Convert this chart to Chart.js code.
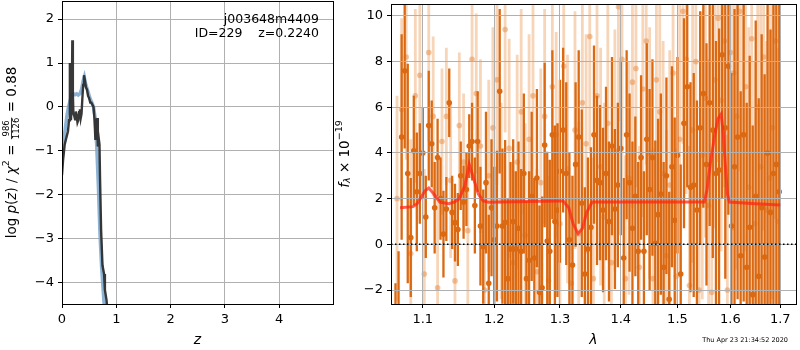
<!DOCTYPE html>
<html>
<head>
<meta charset="utf-8">
<title>Redshift fit</title>
<script src="https://cdn.jsdelivr.net/npm/chart.js"></script>
<style>
  body { margin: 0; background: #fff; }
  #wrap { position: relative; width: 800px; height: 350px; }
  canvas { position: absolute; top: 0; }
  #pz { left: 0; }
  #spec { left: 334px; }
</style>
</head>
<body>
<div id="wrap">
  <canvas id="pz" width="334" height="350"></canvas>
  <canvas id="spec" width="466" height="350"></canvas>
</div>
<script>
// ---- left panel: log p(z) ----
const zTicks = [0, 1, 2, 3, 4];
const logpTicks = [-4, -3, -2, -1, 0, 1, 2];

const zFit = [0.0, 0.03, 0.06, 0.09, 0.12, 0.15, 0.18, 0.21, 0.24, 0.27, 0.30, 0.33, 0.36, 0.39, 0.41,
              0.43, 0.46, 0.49, 0.52, 0.55, 0.58, 0.61, 0.64, 0.67, 0.70, 0.73, 0.76, 0.78, 0.80];
const logpFit = [-1.2, -0.8, -0.5, -0.2, 0.0, 0.15, 0.28, 0.3, 0.28, 0.3, 0.27, 0.3, 0.4, 0.6, 0.68,
                 0.55, 0.42, 0.3, 0.18, 0.1, 0.0, -0.25, -0.9, -1.8, -2.9, -3.65, -4.2, -4.55, -4.8];

const zRaw = [0.0, 0.02, 0.05, 0.08, 0.11, 0.13, 0.145, 0.155, 0.165, 0.18, 0.19, 0.20, 0.21, 0.225,
              0.24, 0.255, 0.27, 0.285, 0.30, 0.315, 0.33, 0.345, 0.36, 0.375, 0.39, 0.405, 0.42, 0.44,
              0.46, 0.48, 0.50, 0.52, 0.54, 0.56, 0.58, 0.60, 0.615, 0.63, 0.645, 0.66, 0.675, 0.69,
              0.70, 0.72, 0.745, 0.775, 0.79, 0.82, 0.84];
const logpRaw = [-1.55, -1.2, -0.85, -0.7, -0.55, -0.3, 1.0, 0.1, -0.3, 0.1, 1.52, 0.3, -0.15, -0.2,
                 -0.28, -0.1, -0.2, -0.35, -0.3, -0.12, -0.05, -0.25, -0.15, 0.2, 0.5, 0.72, 0.62, 0.45,
                 0.4, 0.25, 0.2, 0.1, 0.1, 0.05, 0.0, -0.3, -0.75, -0.5, -0.25, -0.9, -0.7, -0.85,
                 -1.6, -2.8, -3.6, -3.8, -4.16, -4.39, -4.7];

const objName = 'j003648m4409';
const idText = 'ID=229    z=0.2240';

// ---- right panel: spectrum ----
const waveTicks = [1.1, 1.2, 1.3, 1.4, 1.5, 1.6, 1.7];
const fluxTicks = [-2, 0, 2, 4, 6, 8, 10];

const darkWave = [
  1.064, 1.068, 1.072, 1.076, 1.080, 1.084, 1.088, 1.092, 1.096, 1.100,
  1.104, 1.108, 1.112, 1.116, 1.120, 1.124, 1.128, 1.132, 1.136, 1.140,
  1.144, 1.148, 1.152, 1.156, 1.160, 1.164, 1.168, 1.172, 1.176, 1.180,
  1.184, 1.188, 1.192, 1.196, 1.200, 1.204, 1.208, 1.212, 1.216, 1.220,
  1.224, 1.228, 1.232, 1.236, 1.240, 1.244, 1.248, 1.252, 1.256, 1.260,
  1.264, 1.268, 1.272, 1.276, 1.280, 1.284, 1.288, 1.292, 1.296, 1.300,
  1.305, 1.310, 1.315, 1.320, 1.325, 1.330, 1.335, 1.340, 1.345, 1.350,
  1.355, 1.360, 1.365, 1.370, 1.375, 1.380, 1.385, 1.390, 1.395, 1.400,
  1.405, 1.410, 1.415, 1.420, 1.425, 1.430, 1.435, 1.440, 1.445, 1.450,
  1.455, 1.460, 1.465, 1.470, 1.475, 1.480, 1.485, 1.490, 1.495, 1.500,
  1.506, 1.512, 1.518, 1.524, 1.530, 1.536, 1.542, 1.548, 1.554, 1.560,
  1.566, 1.572, 1.578, 1.584, 1.590, 1.596, 1.602, 1.608, 1.614, 1.620,
  1.626, 1.632, 1.638, 1.644, 1.650, 1.656, 1.662, 1.668, 1.674, 1.680,
  1.686, 1.692, 1.698
];
const darkFlux = [
  -3.2, -2.8, 4.7, 7.6, 3.1, 0.3, 4.1, 2.3, 3.1, 4.0,
  1.2, 5.2, 4.4, 1.6, 3.8, 2.0, 0.45, 1.55, 6.2, 1.4,
  0.95, 0.65, 3.0, 1.85, 2.4, 4.3, 4.5, 1.7, 4.5, 0.8,
  -0.1, 2.7, -1.7, 1.6, 0.2, 0.8, 6.7, 0.8, 0.97, -1.5,
  -0.2, 1.0, -0.2, 0.7, -0.3, 3.1, -1.5, -0.7, 2.1, -0.6,
  2.9, -2.1, -1.9, 4.35, 0.15, -0.3, 4.8, 1.0, 1.5, 3.2,
  5.0, 3.1, 0.2, -0.9, 3.5, 4.7, 1.8, -1.3, -0.2, 0.75,
  4.8, 2.8, 2.7, 1.5, 3.1, 1.0, 4.3, 1.55, 2.6, 4.2,
  -0.6, 4.8, 2.7, 0.7, 2.1, -0.3, 3.8, -0.3, 4.6, 2.4,
  3.8, 0.05, 1.3, 2.2, -1.0, 3.0, -2.4, 3.4, 1.05, 3.9,
  -1.3, 5.3, 6.9, 2.5, 2.6, 1.5, 5.1, 6.6, 3.5, 6.2,
  5.0, 3.1, 3.25, 8.3, 5.1, 7.8, 0.8, 3.4, 4.7, -0.5,
  4.8, -1.0, 0.75, -2.2, 2.1, -1.4, 1.6, -0.55, 4.0, 1.4,
  3.1, 3.5, 2.3
];
const darkErr = [
  1.5, 2.5, 4.5, 3.4, 4.8, 2.6, 2.4, 2.6, 2.2, 2.0,
  1.8, 2.4, 1.9, 2.0, 1.7, 1.8, 1.9, 1.4, 1.5, 1.6,
  1.7, 1.6, 1.5, 1.6, 1.6, 1.4, 1.7, 2.1, 2.2, 2.6,
  2.5, 3.1, 3.0, 3.0, 3.2, 3.3, 3.6, 3.4, 3.6, 3.5,
  3.8, 3.6, 3.4, 3.8, 3.6, 3.5, 3.4, 3.9, 3.7, 3.5,
  3.9, 3.8, 4.0, 3.6, 3.9, 4.0, 3.7, 4.2, 3.8, 4.0,
  3.6, 4.0, 3.8, 3.9, 3.6, 3.8, 4.1, 3.8, 4.0, 3.5,
  3.9, 3.7, 3.4, 3.6, 3.8, 3.5, 3.9, 3.5, 3.6, 3.8,
  3.5, 3.7, 3.9, 3.8, 3.5, 3.9, 3.6, 3.5, 4.2, 4.4,
  4.3, 4.5, 4.2, 4.4, 4.6, 4.3, 4.7, 4.4, 4.5, 4.3,
  4.8, 4.6, 4.4, 4.6, 4.9, 4.8, 5.1, 5.0, 5.3, 5.4,
  5.6, 5.8, 6.2, 6.3, 6.6, 6.5, 6.7, 6.9, 7.1, 7.2,
  7.3, 7.2, 7.5, 7.4, 7.7, 7.8, 7.6, 8.0, 8.1, 8.0,
  8.3, 8.2, 8.6
];

const lightWave = [
  1.066, 1.072, 1.078, 1.084, 1.090, 1.096, 1.102, 1.108, 1.114, 1.120,
  1.126, 1.132, 1.138, 1.144, 1.150, 1.156, 1.162, 1.168, 1.174, 1.180,
  1.186, 1.192, 1.198, 1.204, 1.210, 1.216, 1.222, 1.228, 1.234, 1.240,
  1.246, 1.252, 1.258, 1.264, 1.270, 1.276, 1.282, 1.288, 1.294, 1.300,
  1.306, 1.312, 1.318, 1.324, 1.330, 1.336, 1.342, 1.348, 1.354, 1.360,
  1.366, 1.372, 1.378, 1.384, 1.390, 1.396, 1.402, 1.408, 1.414, 1.420,
  1.426, 1.432, 1.438, 1.444, 1.450, 1.456, 1.462, 1.468, 1.474, 1.480,
  1.486, 1.492, 1.498, 1.504, 1.510, 1.516, 1.522, 1.528, 1.534, 1.540,
  1.546, 1.552, 1.558, 1.564, 1.570, 1.576, 1.582, 1.588, 1.594, 1.600,
  1.606, 1.612, 1.618, 1.624, 1.630, 1.636, 1.642, 1.648, 1.654, 1.660,
  1.666, 1.672, 1.678, 1.684, 1.690, 1.696
];
const lightFlux = [
  2.0, 5.9, 8.2, -0.4, 6.5, 7.4, -1.3, 8.4, 5.6, -1.9,
  4.5, 5.6, 2.8, -1.6, 5.2, 3.6, 0.6, 8.1, 6.6, 4.3,
  -2.0, 3.0, 5.1, 7.2, 1.9, 9.4, 4.2, -0.8, 3.6, 5.8,
  0.4, 4.6, 6.5, -1.2, 2.7, 5.6, -1.6, 6.9, 4.8, 0.9,
  7.8, 3.3, -1.7, 5.0, 0.47, 6.2, 4.4, 9.1, -1.5, 6.5,
  3.4, 1.2, 5.3, -0.8, 4.1, 10.4, 8.1, -1.5, 2.9, 7.1,
  7.7, -1.0, 6.8, 8.9, 4.0, -1.5, 7.2, 5.8, 3.1, -0.5,
  2.6, 7.5, -1.4, 4.6, 10.2, 8.1, -1.8, 5.0, 8.0, -2.0,
  3.9, 6.4, 1.7, -2.1, 7.2, 9.9, 6.3, 8.9, -2.0, 8.4,
  7.5, 5.6, 10.2, 4.8, 6.9, 2.5, 9.0, 0.9, 6.0, 3.4,
  8.2, 1.5, 2.9, 5.1, 8.9, 1.0
];
const lightErr = [
  4.5, 4.0, 4.5, 5.0, 3.8, 4.2, 4.6, 3.9, 3.5, 4.0,
  3.2, 3.0, 3.4, 3.6, 3.2, 3.0, 3.4, 3.1, 3.5, 3.8,
  4.0, 4.2, 4.4, 4.6, 4.3, 4.5, 4.8, 4.4, 4.7, 4.5,
  4.9, 4.6, 4.8, 4.5, 5.0, 4.7, 4.6, 4.9, 4.5, 5.1,
  4.8, 5.0, 4.7, 5.2, 4.9, 5.1, 4.8, 5.0, 5.3, 4.9,
  5.2, 5.0, 5.4, 5.1, 5.3, 5.0, 5.2, 5.4, 5.1, 5.5,
  5.2, 5.3, 5.6, 5.4, 5.5, 5.7, 5.4, 5.6, 5.8, 5.5,
  5.9, 5.7, 5.6, 6.0, 5.8, 5.9, 6.1, 5.8, 6.2, 6.0,
  6.3, 6.1, 6.4, 6.2, 6.5, 6.3, 6.6, 6.4, 6.8, 6.5,
  6.9, 6.7, 7.0, 6.8, 7.2, 7.0, 7.3, 7.1, 7.4, 7.2,
  7.6, 7.4, 7.7, 7.5, 7.8, 7.6
];

const modelWave = [1.070, 1.087, 1.093, 1.103, 1.108, 1.115, 1.123, 1.135, 1.143, 1.150, 1.158,
                   1.164, 1.170, 1.177, 1.184, 1.192, 1.250, 1.300, 1.305, 1.314, 1.321, 1.329,
                   1.336, 1.343, 1.352, 1.450, 1.550, 1.555, 1.561, 1.569, 1.576, 1.582, 1.586,
                   1.590, 1.594, 1.598, 1.650, 1.700];
const modelFlux = [1.6, 1.65, 1.8, 2.35, 2.47, 2.2, 1.85, 1.78, 1.85, 2.0, 2.6,
                   3.5, 2.9, 2.2, 1.9, 1.84, 1.88, 1.9, 1.9, 1.6, 0.9, 0.47,
                   0.7, 1.4, 1.85, 1.85, 1.85, 2.4, 3.5, 4.7, 5.5, 5.7, 4.9,
                   3.5, 2.2, 1.85, 1.78, 1.72];

const waveMin = 1.0582, waveMax = 1.733;
const stamp = 'Thu Apr 23 21:34:52 2020';

// ---- helpers ----
const FAM = '"DejaVu Sans"';
Chart.defaults.font.family = 'DejaVu Sans';
Chart.defaults.color = '#000';

const minus = v => String(v).replace('-', '\u2212');

function errSegments(wave, flux, err) {
  const pts = [];
  wave.forEach((w, i) => {
    pts.push({x: w, y: flux[i] - err[i]}, {x: w, y: flux[i] + err[i]}, {x: w, y: null});
  });
  return pts;
}
const pairs = (xs, ys) => xs.map((x, i) => ({x: x, y: ys[i]}));

function drawRich(ctx, parts, cx, cy, angle) {
  ctx.save();
  ctx.translate(cx, cy);
  ctx.rotate(angle);
  ctx.textBaseline = 'middle';
  ctx.fillStyle = '#000';
  let total = 0;
  parts.forEach(p => {
    ctx.font = p.font;
    p.w = p.frac ? Math.max(ctx.measureText(p.num).width, ctx.measureText(p.den).width) + 2
                 : ctx.measureText(p.text).width;
    total += p.w;
  });
  let x = -total / 2;
  parts.forEach(p => {
    ctx.font = p.font;
    if (p.frac) {
      ctx.textAlign = 'center';
      ctx.fillText(p.num, x + p.w / 2, -5);
      ctx.fillText(p.den, x + p.w / 2, 5);
      ctx.fillRect(x + 1, -0.8, p.w - 2, 0.8);
    } else {
      ctx.textAlign = 'left';
      ctx.fillText(p.text, x, p.dy || 0);
    }
    x += p.w;
  });
  ctx.restore();
}

const frame = {
  id: 'frame',
  afterDraw(chart) {
    const {ctx, chartArea: a} = chart;
    ctx.save();
    ctx.strokeStyle = '#000';
    ctx.lineWidth = 1;
    ctx.strokeRect(a.left + 0.5, a.top + 0.5, a.right - a.left, a.bottom - a.top);
    ctx.restore();
  }
};

function noPad(s) {
  s.paddingTop = 0; s.paddingBottom = 0; s.paddingLeft = 0; s.paddingRight = 0;
}
function axisX(extra) {
  return Object.assign({
    grid: {color: '#b0b0b0', tickColor: '#000', tickLength: 4},
    border: {display: false},
    ticks: {font: {size: 13}, padding: 4, maxRotation: 0, autoSkip: false},
    afterFit: s => { s.height = 46; noPad(s); }
  }, extra);
}
function axisY(width, extra) {
  return Object.assign({
    grid: {color: '#b0b0b0', tickColor: '#000', tickLength: 4},
    border: {display: false},
    ticks: {font: {size: 13}, padding: 4, autoSkip: false, callback: v => minus(v)},
    afterFit: s => { s.width = width; noPad(s); }
  }, extra);
}

// ---- left chart ----
const pzText = {
  id: 'pzText',
  afterDraw(chart) {
    const {ctx, chartArea: a} = chart;
    ctx.save();
    ctx.fillStyle = '#000';
    ctx.font = '12.5px ' + FAM;
    ctx.textAlign = 'right';
    ctx.textBaseline = 'middle';
    ctx.fillText(objName, a.right - 14, 20);
    ctx.fillText(idText, a.right - 14, 34);
    ctx.restore();
    const n = '13.5px ' + FAM, it = 'italic 13.5px ' + FAM, sm = '9.5px ' + FAM;
    drawRich(ctx, [
      {text: 'log ', font: n}, {text: 'p', font: it}, {text: '(', font: n},
      {text: 'z', font: it}, {text: ') / ', font: n}, {text: '\u03c7', font: it},
      {text: '2', font: sm, dy: -5}, {text: ' = ', font: n},
      {frac: true, num: '986', den: '1126', font: '8.5px ' + FAM},
      {text: ' = 0.88', font: n}
    ], 12, (a.top + a.bottom) / 2, -Math.PI / 2);
  }
};

new Chart(document.getElementById('pz'), {
  type: 'line',
  data: {
    datasets: [
      {data: pairs(zRaw, logpRaw), borderColor: 'rgba(45,45,45,0.95)', borderWidth: 2.4,
       pointRadius: 0, clip: 0},
      {data: pairs(zFit, logpFit), borderColor: 'rgba(120,165,205,0.85)', borderWidth: 3.5,
       pointRadius: 0, clip: 0}
    ]
  },
  options: {
    responsive: false, animation: false, events: [],
    layout: {padding: {top: 1, right: 1, left: 0, bottom: 0}},
    plugins: {legend: {display: false}, tooltip: {enabled: false}},
    scales: {
      x: axisX({type: 'linear', min: 0, max: 4.99,
        afterBuildTicks: s => { s.ticks = zTicks.map(v => ({value: v})); },
        title: {display: true, text: 'z', font: {size: 14, style: 'italic'}, padding: {top: 0, bottom: 1.5}}}),
      y: axisY(62, {type: 'linear', min: -4.48, max: 2.41,
        afterBuildTicks: s => { s.ticks = logpTicks.map(v => ({value: v})); }})
    }
  },
  plugins: [frame, pzText]
});

// ---- right chart ----
const specText = {
  id: 'specText',
  beforeDatasetDraw(chart, args) {
    if (args.index !== 1) return;
    chart.scales.x.drawGrid(chart.chartArea);
    chart.scales.y.drawGrid(chart.chartArea);
  },
  afterDraw(chart) {
    const {ctx, chartArea: a} = chart;
    const n = '13.5px ' + FAM, it = 'italic 13.5px ' + FAM;
    drawRich(ctx, [
      {text: 'f', font: it}, {text: '\u03bb', font: 'italic 9.5px ' + FAM, dy: 3},
      {text: ' \u00d7 10', font: n}, {text: '\u221219', font: '9.5px ' + FAM, dy: -5.5}
    ], 11, (a.top + a.bottom) / 2, -Math.PI / 2);
    ctx.save();
    ctx.fillStyle = '#000';
    ctx.font = '6.5px ' + FAM;
    ctx.textAlign = 'right';
    ctx.textBaseline = 'middle';
    ctx.fillText(stamp, chart.width - 12, 340);
    ctx.restore();
  }
};

const darkOrange = 'rgb(219,105,18)';

new Chart(document.getElementById('spec'), {
  type: 'line',
  data: {
    datasets: [
      {data: [{x: waveMin, y: 0}, {x: waveMax, y: 0}], borderColor: '#000', borderWidth: 1.5,
       borderDash: [1.5, 2.5], pointRadius: 0, clip: 0},
      {data: pairs(modelWave, modelFlux), borderColor: 'rgba(255,35,20,0.72)', borderWidth: 3,
       pointRadius: 0, clip: 0},
      {data: pairs(darkWave, darkFlux), showLine: false, pointRadius: 2.8, pointBorderWidth: 0,
       pointBackgroundColor: darkOrange, clip: 0},
      {data: errSegments(darkWave, darkFlux, darkErr), borderColor: darkOrange,
       borderWidth: 2.3, pointRadius: 0, spanGaps: false, clip: 0},
      {data: pairs(lightWave, lightFlux), showLine: false, pointRadius: 2.8, pointBorderWidth: 0,
       pointBackgroundColor: 'rgba(230,140,70,0.5)', clip: 0},
      {data: errSegments(lightWave, lightFlux, lightErr), borderColor: 'rgba(236,150,80,0.4)',
       borderWidth: 2.8, pointRadius: 0, spanGaps: false, clip: 0}
    ]
  },
  options: {
    responsive: false, animation: false, events: [],
    layout: {padding: {top: 1, right: 2, left: 0, bottom: 0}},
    plugins: {legend: {display: false}, tooltip: {enabled: false}},
    scales: {
      x: axisX({type: 'logarithmic', min: waveMin, max: waveMax,
        afterBuildTicks: s => { s.ticks = waveTicks.map(v => ({value: v})); },
        ticks: {font: {size: 13}, padding: 4, maxRotation: 0, autoSkip: false, callback: v => Number(v).toFixed(1)},
        title: {display: true, text: '\u03bb', font: {size: 14, style: 'italic'}, padding: {top: 0, bottom: 1.5}}}),
      y: axisY(57, {type: 'linear', min: -2.61, max: 10.52,
        afterBuildTicks: s => { s.ticks = fluxTicks.map(v => ({value: v})); }})
    }
  },
  plugins: [frame, specText]
});
</script>
</body>
</html>
